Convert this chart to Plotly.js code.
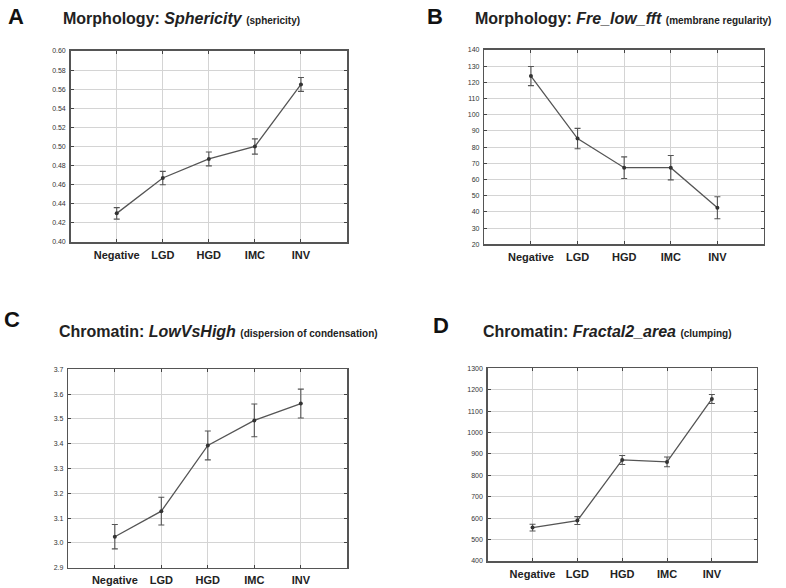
<!DOCTYPE html>
<html>
<head>
<meta charset="utf-8">
<script src="https://cdn.plot.ly/plotly-3.0.1.min.js"></script>
<style>html,body{margin:0;padding:0;background:#fff;}#chart{width:786px;height:588px;}</style>
</head>
<body>
<div id="chart"></div>
<script>
const categories = ["Negative", "LGD", "HGD", "IMC", "INV"];

const sphericityMean = [0.430, 0.467, 0.487, 0.500, 0.565];
const sphericityErr  = [0.006, 0.007, 0.0073, 0.008, 0.0073];

const freLowFftMean = [123.9, 85.3, 67.3, 67.3, 42.6];
const freLowFftErr  = [5.9, 6.3, 6.7, 7.5, 6.8];

const lowVsHighMean = [3.025, 3.128, 3.393, 3.494, 3.562];
const lowVsHighErr  = [0.049, 0.056, 0.058, 0.066, 0.058];

const fractal2Mean = [556, 589, 872, 863, 1157];
const fractal2Err  = [16, 18.5, 21, 23, 21];

const yTicksA = [0.40, 0.42, 0.44, 0.46, 0.48, 0.50, 0.52, 0.54, 0.56, 0.58, 0.60];
const yTicksB = [20, 30, 40, 50, 60, 70, 80, 90, 100, 110, 120, 130, 140];
const yTicksC = [2.9, 3.0, 3.1, 3.2, 3.3, 3.4, 3.5, 3.6, 3.7];
const yTicksD = [400, 500, 600, 700, 800, 900, 1000, 1100, 1200, 1300];

const lineColor = "#555555";

function series(y, err, xa, ya) {
  return {
    x: categories, y: y, xaxis: xa, yaxis: ya, type: "scatter", mode: "lines+markers",
    line: {color: lineColor, width: 1.3},
    marker: {color: "#333333", size: 4},
    error_y: {type: "data", array: err, visible: true, color: "#555555", thickness: 1.1, width: 3},
    showlegend: false, hoverinfo: "skip"
  };
}

function xaxisDef(domain, anchor) {
  return {
    domain: domain, anchor: anchor, type: "category", range: [-1, 5],
    showgrid: true, gridcolor: "#d4d4d4", gridwidth: 1,
    showline: true, linecolor: "#555555", linewidth: 1.5, mirror: "ticks",
    ticks: "inside", ticklen: 3, tickcolor: "#444", zeroline: false,
    tickfont: {family: "Liberation Sans, Arial, sans-serif", size: 11, color: "#222", weight: "bold"},
    ticklabelstandoff: 2, fixedrange: true
  };
}

function yaxisDef(domain, anchor, ticks, fmt) {
  return {
    domain: domain, anchor: anchor, range: [ticks[0], ticks[ticks.length - 1]],
    tickvals: ticks, ticktext: ticks.map(v => v.toFixed(fmt)),
    showgrid: true, gridcolor: "#d4d4d4", gridwidth: 1,
    showline: true, linecolor: "#555555", linewidth: 1.5, mirror: "ticks",
    ticks: "inside", ticklen: 3, tickcolor: "#444", zeroline: false,
    tickfont: {family: "Liberation Sans, Arial, sans-serif", size: 7, color: "#333"},
    ticklabelstandoff: 2, fixedrange: true
  };
}

const data = [
  series(sphericityMean, sphericityErr, "x", "y"),
  series(freLowFftMean, freLowFftErr, "x2", "y2"),
  series(lowVsHighMean, lowVsHighErr, "x3", "y3"),
  series(fractal2Mean, fractal2Err, "x4", "y4")
];

const titleFont = {family: "Liberation Sans, Arial, sans-serif", size: 16, color: "#222"};
const letterFont = {family: "Liberation Sans, Arial, sans-serif", size: 22, color: "#111"};

function title(x, y, text) {
  return {xref: "paper", yref: "paper", x: x, y: y, xanchor: "left", yanchor: "middle",
          showarrow: false, text: text, font: titleFont};
}
function letter(x, y, text) {
  return {xref: "paper", yref: "paper", x: x, y: y, xanchor: "left", yanchor: "middle",
          showarrow: false, text: "<b>" + text + "</b>", font: letterFont};
}
const small = s => "<span style='font-size:10px'><b>" + s + "</b></span>";

const layout = {
  width: 786, height: 588,
  margin: {l: 0, r: 0, t: 0, b: 0},
  paper_bgcolor: "#ffffff", plot_bgcolor: "#ffffff",
  xaxis: xaxisDef([0.0899, 0.4415], "y"),
  yaxis: yaxisDef([0.5884, 0.9133], "x", yTicksA, 2),
  xaxis2: xaxisDef([0.6162, 0.9720], "y2"),
  yaxis2: yaxisDef([0.5845, 0.9150], "x2", yTicksB, 0),
  xaxis3: xaxisDef([0.0869, 0.4419], "y3"),
  yaxis3: yaxisDef([0.0345, 0.3719], "x3", yTicksC, 1),
  xaxis4: xaxisDef([0.6205, 0.9627], "y4"),
  yaxis4: yaxisDef([0.0459, 0.3736], "x4", yTicksD, 0),
  annotations: [
    letter(6 / 786, 1 - 17 / 588, "A"),
    letter(425 / 786, 1 - 17 / 588, "B"),
    letter(2 / 786, 1 - 319 / 588, "C"),
    letter(431 / 786, 1 - 325 / 588, "D"),
    title(61 / 786, 1 - 18 / 588, "<b>Morphology: <i>Sphericity</i></b> " + small("(sphericity)")),
    title(473 / 786, 1 - 18 / 588, "<b>Morphology: <i>Fre_low_fft</i></b> " + small("(membrane regularity)")),
    title(57 / 786, 1 - 331 / 588, "<b>Chromatin: <i>LowVsHigh</i></b> " + small("(dispersion of condensation)")),
    title(481 / 786, 1 - 331 / 588, "<b>Chromatin: <i>Fractal2_area</i></b> " + small("(clumping)"))
  ]
};

Plotly.newPlot("chart", data, layout, {displayModeBar: false, staticPlot: true});
</script>
</body>
</html>
